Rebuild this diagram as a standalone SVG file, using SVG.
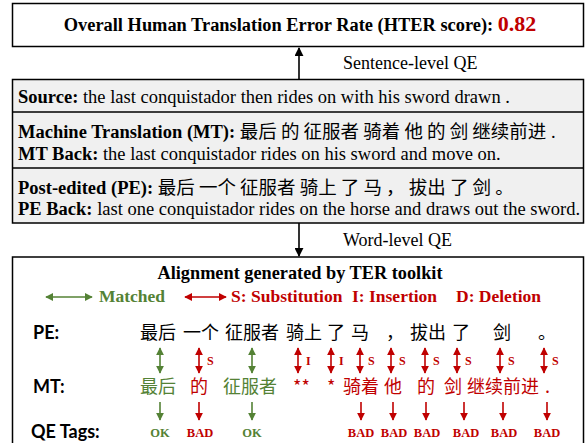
<svg xmlns="http://www.w3.org/2000/svg" width="585" height="443" viewBox="0 0 585 443">
<defs>
<style>
.serif{font-family:"Liberation Serif","Times New Roman",serif;}
.cjk{font-family:"Noto Sans CJK SC","Noto Sans",sans-serif;}
.lab{font-family:Lato,"Liberation Sans",sans-serif;font-weight:bold;font-size:18px;fill:#000;}
.b{font-weight:bold;}
.box{fill:#fff;stroke:#000;stroke-width:1.5;}
.gbox{fill:#f0f0f0;stroke:#000;stroke-width:1.5;}
.div{stroke:#000;stroke-width:1.5;}
.g{fill:#548235;}
.r{fill:#c00000;}
.gl{stroke:#548235;stroke-width:1.6;fill:none;}
.rl{stroke:#c00000;stroke-width:1.6;fill:none;}
.kl{stroke:#000;stroke-width:1.6;fill:none;}
.tag{font-family:"Liberation Serif","Times New Roman",serif;font-weight:bold;font-size:12.5px;text-anchor:middle;}
.sl{font-family:"Liberation Serif","Times New Roman",serif;font-weight:bold;font-size:12px;fill:#c00000;}
.zh{font-family:"Noto Sans CJK SC","Noto Sans",sans-serif;font-size:18px;}
</style>
<marker id="ak" viewBox="0 0 10 10" refX="9" refY="5" markerWidth="9" markerHeight="9" markerUnits="userSpaceOnUse" orient="auto-start-reverse"><path d="M0,0 L10,5 L0,10 Z" fill="#000"/></marker>
<marker id="ag" viewBox="0 0 10 10" refX="9" refY="5" markerWidth="8" markerHeight="8" markerUnits="userSpaceOnUse" orient="auto-start-reverse"><path d="M0,0 L10,5 L0,10 Z" fill="#548235"/></marker>
<marker id="ar" viewBox="0 0 10 10" refX="9" refY="5" markerWidth="8" markerHeight="8" markerUnits="userSpaceOnUse" orient="auto-start-reverse"><path d="M0,0 L10,5 L0,10 Z" fill="#c00000"/></marker>
</defs>

<g id="hter-box">
<rect class="box" x="12.5" y="3.5" width="571" height="43"/>
<text class="serif b" x="300" y="31" font-size="18.4" text-anchor="middle">Overall Human Translation Error Rate (HTER score): <tspan class="r" font-size="22">0.82</tspan></text>
</g>

<g id="input-box">
<rect class="gbox" x="12.5" y="79.5" width="571" height="143.5"/>
<line class="div" x1="12.5" y1="112" x2="583.5" y2="112"/>
<line class="div" x1="12.5" y1="168" x2="583.5" y2="168"/>
<text class="serif" x="18" y="103" font-size="18.5"><tspan class="b">Source:</tspan> the last conquistador then rides on with his sword drawn .</text>
<text class="serif" x="18" y="138" font-size="18.5"><tspan class="b">Machine Translation (MT):</tspan> <tspan class="cjk" font-size="18.5">最后 的 征服者 骑着 他 的 剑 继续前进</tspan> .</text>
<text class="serif" x="18" y="160" font-size="18.5"><tspan class="b">MT Back:</tspan> the last conquistador rides on his sword and move on.</text>
<text class="serif" x="18" y="194" font-size="18.5"><tspan class="b">Post-edited (PE):</tspan> <tspan class="cjk" font-size="18.5">最后 一个 征服者 骑上 了 马 ， 拔出 了 剑 。</tspan></text>
<text class="serif" x="18" y="215" font-size="18.5"><tspan class="b">PE Back:</tspan> last one conquistador rides on the horse and draws out the sword.</text>
</g>

<g id="alignment-box">
<rect class="box" x="12.5" y="257" width="571" height="200"/>
<text class="serif b" x="300" y="279" font-size="18.3" text-anchor="middle">Alignment generated by TER toolkit</text>
<text class="serif b g" x="99" y="302" font-size="17.5">Matched</text>
<text class="serif b r" y="302" font-size="17.5"><tspan x="231">S: Substitution</tspan><tspan x="352">I: Insertion</tspan><tspan x="456">D: Deletion</tspan></text>
<text class="lab" x="33" y="339">PE:</text>
<text class="lab" x="33" y="393">MT:</text>
<text class="lab" x="31" y="438">QE Tags:</text>

<g class="zh" fill="#000">
<text x="140" y="339">最后</text>
<text x="183" y="339">一个</text>
<text x="225" y="339">征服者</text>
<text x="286" y="339">骑上</text>
<text x="327" y="339">了</text>
<text x="351" y="339">马</text>
<text x="386" y="339">，</text>
<text x="410" y="339">拔出</text>
<text x="452" y="339">了</text>
<text x="493" y="339">剑</text>
<text x="538" y="339">。</text>
</g>

<g class="zh">
<text class="g" x="140" y="393">最后</text>
<text class="r" x="190" y="393">的</text>
<text class="g" x="223" y="393">征服者</text>
<text class="r" x="293" y="393">**</text>
<text class="r" x="327" y="393">*</text>
<text class="r" x="343" y="393">骑着</text>
<text class="r" x="384" y="393">他</text>
<text class="r" x="417" y="393">的</text>
<text class="r" x="444" y="393">剑</text>
<text class="r" x="467" y="393">继续前进</text>
<text class="r" x="545" y="393">.</text>
</g>

<text class="sl" x="207" y="365">S</text>
<text class="sl" x="306" y="365">I</text>
<text class="sl" x="339" y="365">I</text>
<text class="sl" x="368" y="365">S</text>
<text class="sl" x="399" y="365">S</text>
<text class="sl" x="433" y="365">S</text>
<text class="sl" x="465" y="365">S</text>
<text class="sl" x="508" y="365">S</text>
<text class="sl" x="552" y="365">S</text>

<text class="tag g" x="160" y="437">OK</text>
<text class="tag r" x="200" y="437">BAD</text>
<text class="tag g" x="252" y="437">OK</text>
<text class="tag r" x="361" y="437">BAD</text>
<text class="tag r" x="394" y="437">BAD</text>
<text class="tag r" x="427" y="437">BAD</text>
<text class="tag r" x="466" y="437">BAD</text>
<text class="tag r" x="504" y="437">BAD</text>
<text class="tag r" x="547" y="437">BAD</text>
</g>

<g id="connectors">
<line class="kl" x1="299" y1="80" x2="299" y2="48" marker-end="url(#ak)"/>
<text class="serif" x="343" y="69" font-size="18">Sentence-level QE</text>
<line class="kl" x1="299" y1="223" x2="299" y2="256" marker-end="url(#ak)"/>
<text class="serif" x="343" y="246" font-size="18">Word-level QE</text>

<line class="gl" x1="46" y1="297" x2="92" y2="297" marker-start="url(#ag)" marker-end="url(#ag)"/>
<line class="rl" x1="185" y1="297" x2="226" y2="297" marker-start="url(#ar)" marker-end="url(#ar)"/>

<line class="gl" x1="160" y1="348" x2="160" y2="373" marker-start="url(#ag)" marker-end="url(#ag)"/>
<line class="rl" x1="199" y1="348" x2="199" y2="373" marker-start="url(#ar)" marker-end="url(#ar)"/>
<line class="gl" x1="252" y1="348" x2="252" y2="373" marker-start="url(#ag)" marker-end="url(#ag)"/>
<line class="rl" x1="298" y1="348" x2="298" y2="373" marker-start="url(#ar)" marker-end="url(#ar)"/>
<line class="rl" x1="331" y1="348" x2="331" y2="373" marker-start="url(#ar)" marker-end="url(#ar)"/>
<line class="rl" x1="360" y1="348" x2="360" y2="373" marker-start="url(#ar)" marker-end="url(#ar)"/>
<line class="rl" x1="391" y1="348" x2="391" y2="373" marker-start="url(#ar)" marker-end="url(#ar)"/>
<line class="rl" x1="425" y1="348" x2="425" y2="373" marker-start="url(#ar)" marker-end="url(#ar)"/>
<line class="rl" x1="457" y1="348" x2="457" y2="373" marker-start="url(#ar)" marker-end="url(#ar)"/>
<line class="rl" x1="500" y1="348" x2="500" y2="373" marker-start="url(#ar)" marker-end="url(#ar)"/>
<line class="rl" x1="544" y1="348" x2="544" y2="373" marker-start="url(#ar)" marker-end="url(#ar)"/>

<line class="gl" x1="160" y1="402" x2="160" y2="420" marker-end="url(#ag)"/>
<line class="rl" x1="199" y1="402" x2="199" y2="420" marker-end="url(#ar)"/>
<line class="gl" x1="252" y1="402" x2="252" y2="420" marker-end="url(#ag)"/>
<line class="rl" x1="361" y1="402" x2="361" y2="420" marker-end="url(#ar)"/>
<line class="rl" x1="393" y1="402" x2="393" y2="420" marker-end="url(#ar)"/>
<line class="rl" x1="426" y1="402" x2="426" y2="420" marker-end="url(#ar)"/>
<line class="rl" x1="464" y1="402" x2="464" y2="420" marker-end="url(#ar)"/>
<line class="rl" x1="503" y1="402" x2="503" y2="420" marker-end="url(#ar)"/>
<line class="rl" x1="547" y1="402" x2="547" y2="420" marker-end="url(#ar)"/>
</g>
</svg>
